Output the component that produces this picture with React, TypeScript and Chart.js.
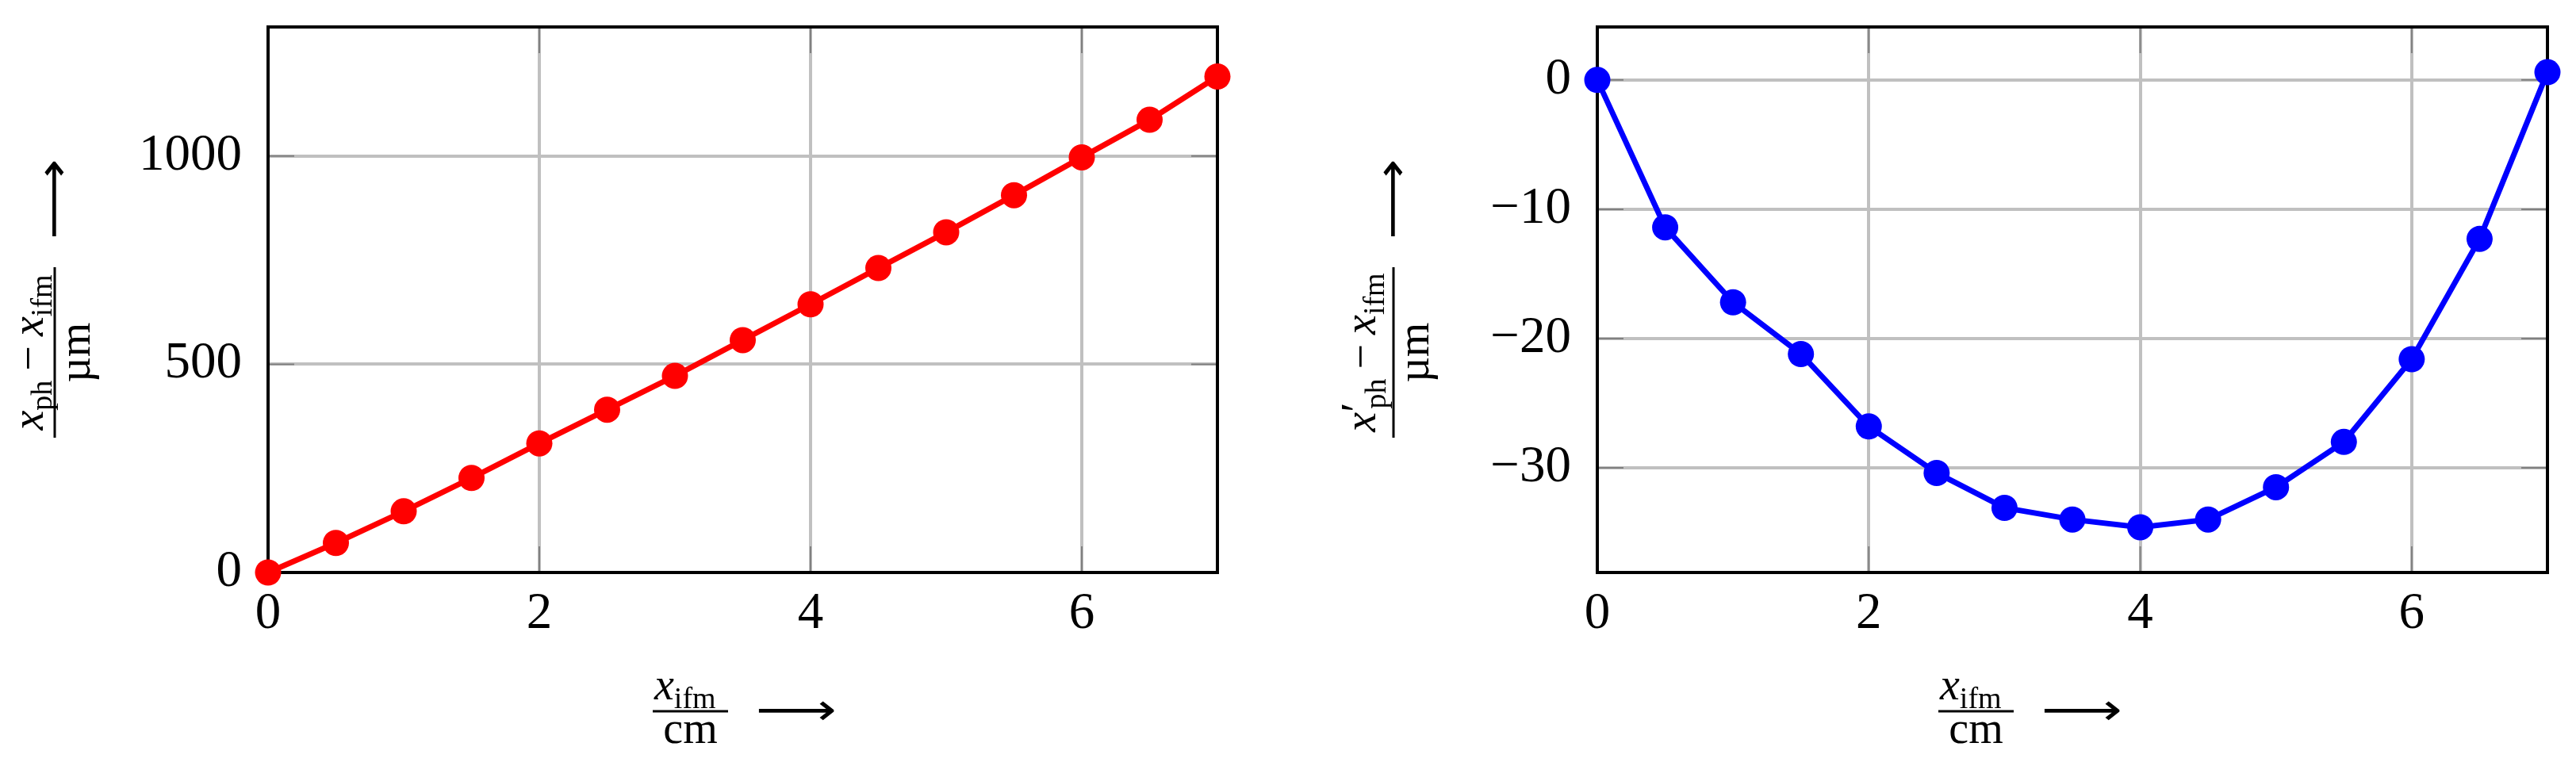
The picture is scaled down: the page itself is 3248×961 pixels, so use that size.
import React, { useEffect, useRef } from "react";
import { Chart, registerables } from "chart.js";

Chart.register(...registerables);

// ---------- data ----------
const xPositions = [0, 0.5, 1, 1.5, 2, 2.5, 3, 3.5, 4, 4.5, 5, 5.5, 6, 6.5, 7];
const deviationValues = [0, 71, 147, 227, 310, 391, 472, 558, 644, 731, 817, 906, 997, 1087, 1191];
const correctedValues = [0, -11.4, -17.2, -21.2, -26.8, -30.4, -33.1, -34.0, -34.6, -34.0, -31.5, -28.0, -21.6, -12.3, 0.6];
const xTickValues = [0, 2, 4, 6];
const leftYTickValues = [0, 500, 1000];
const rightYTickValues = [-30, -20, -10, 0];
const xRange = [0, 7];
const leftYRange = [0, 1310];
const rightYRange = [-38.1, 4.1];

const TICK_FONT = "'Liberation Serif', 'Times New Roman', serif";

const framePlugin = {
  id: "frame",
  beforeDatasetsDraw(chart: any) {
    const { ctx, chartArea: a, scales } = chart;
    const L = 33;
    ctx.save();
    ctx.strokeStyle = "#808080";
    ctx.lineWidth = 2;
    const seg = (x1: number, y1: number, x2: number, y2: number) => {
      ctx.beginPath();
      ctx.moveTo(x1, y1);
      ctx.lineTo(x2, y2);
      ctx.stroke();
    };
    for (const t of scales.x.ticks) {
      const p = scales.x.getPixelForValue(t.value);
      seg(p, a.bottom, p, a.bottom - L);
      seg(p, a.top, p, a.top + L);
    }
    for (const t of scales.y.ticks) {
      const p = scales.y.getPixelForValue(t.value);
      seg(a.left, p, a.left + L, p);
      seg(a.right, p, a.right - L, p);
    }
    ctx.strokeStyle = "#000000";
    ctx.lineWidth = 4;
    ctx.strokeRect(a.left, a.top, a.right - a.left, a.bottom - a.top);
    ctx.restore();
  },
};

const fmt = (v: any) => String(v).replace("-", "\u2212");

function makeConfig(
  values: number[],
  color: string,
  yRange: number[],
  yTicks: number[],
  yAxisWidth: number,
  padRight: number
): any {
  return {
    type: "line",
    data: {
      datasets: [
        {
          data: xPositions.map((x, i) => ({ x, y: values[i] })),
          borderColor: color,
          backgroundColor: color,
          borderWidth: 7,
          pointRadius: 16.5,
          pointBorderWidth: 0,
          pointBackgroundColor: color,
          tension: 0,
          clip: false,
        },
      ],
    },
    options: {
      responsive: false,
      animation: false,
      events: [],
      layout: { padding: { top: 34, right: padRight, left: 0, bottom: 0 } },
      plugins: { legend: { display: false }, tooltip: { enabled: false } },
      scales: {
        x: {
          type: "linear",
          min: xRange[0],
          max: xRange[1],
          afterBuildTicks: (s: any) => {
            s.ticks = xTickValues.map((value) => ({ value }));
          },
          afterFit: (s: any) => {
            s.height = 239;
            s.paddingLeft = 0;
            s.paddingRight = 0;
            s.paddingTop = 0;
            s.paddingBottom = 0;
          },
          border: { display: false },
          grid: { color: "#c0c0c0", lineWidth: 4, drawTicks: false },
          ticks: {
            autoSkip: false,
            maxRotation: 0,
            minRotation: 0,
            padding: 14,
            color: "#000",
            font: { family: TICK_FONT, size: 65 },
            callback: fmt,
          },
        },
        y: {
          type: "linear",
          min: yRange[0],
          max: yRange[1],
          afterBuildTicks: (s: any) => {
            s.ticks = yTicks.map((value) => ({ value }));
          },
          afterFit: (s: any) => {
            s.width = yAxisWidth;
            s.paddingLeft = 0;
            s.paddingRight = 0;
            s.paddingTop = 0;
            s.paddingBottom = 0;
          },
          border: { display: false },
          grid: { color: "#c0c0c0", lineWidth: 4, drawTicks: false },
          ticks: {
            autoSkip: false,
            padding: 33,
            color: "#000",
            font: { family: TICK_FONT, size: 65 },
            callback: fmt,
          },
        },
      },
    },
    plugins: [framePlugin],
  };
}

function ChartCanvas(props: { config: any; left: number; width: number }) {
  const ref = useRef<HTMLCanvasElement | null>(null);
  useEffect(() => {
    if (!ref.current) return;
    const chart = new Chart(ref.current, props.config);
    return () => chart.destroy();
  }, []);
  return (
    <canvas
      ref={ref}
      width={props.width}
      height={961}
      style={{ position: "absolute", left: props.left, top: 0, width: props.width, height: 961, display: "block" }}
    />
  );
}

const MAIN = 56;
const SUB = 38;

function XLabel({ fl }: { fl: number }) {
  return (
    <g fontFamily={TICK_FONT} fill="#000">
      <text x={fl + 2} y={882} fontSize={MAIN}>
        <tspan fontStyle="italic">x</tspan>
        <tspan fontSize={SUB} dy={11}>ifm</tspan>
      </text>
      <line x1={fl} x2={fl + 95} y1={897} y2={897} stroke="#000" strokeWidth={3} />
      <text x={fl + 47.5} y={937} fontSize={MAIN} textAnchor="middle">cm</text>
      <text x={fl + 130} y={914} fontFamily="'DejaVu Sans'" fontSize={MAIN} textLength={102} lengthAdjust="spacingAndGlyphs">
        {"\u27F6"}
      </text>
    </g>
  );
}

function YLabel({ lx, prime, numBase }: { lx: number; prime: boolean; numBase: number }) {
  return (
    <g transform={`translate(${lx},552) rotate(-90)`} fontFamily={TICK_FONT} fill="#000">
      <text x={107.5} y={numBase} fontSize={MAIN} textAnchor="middle">
        <tspan fontStyle="italic">x</tspan>
        {prime ? <tspan dy={-4}>{"\u2032"}</tspan> : null}
        <tspan fontSize={SUB} dx={prime ? -8 : 0} dy={prime ? 17 : 11}>ph</tspan>
        <tspan dx={12} dy={prime ? -13 : -11}>{"\u2212"}</tspan>
        <tspan dx={12} fontStyle="italic">x</tspan>
        <tspan fontSize={SUB} dy={11}>ifm</tspan>
      </text>
      <line x1={0} x2={215} y1={0} y2={0} stroke="#000" strokeWidth={3} />
      <text x={107.5} y={44} fontSize={MAIN} textAnchor="middle">{"\u00B5m"}</text>
      <text x={250} y={17} fontFamily="'DejaVu Sans'" fontSize={MAIN} textLength={102} lengthAdjust="spacingAndGlyphs">
        {"\u27F6"}
      </text>
    </g>
  );
}

export default function App() {
  const leftConfig = makeConfig(deviationValues, "#ff0000", leftYRange, leftYTickValues, 338, 89);
  const rightConfig = makeConfig(correctedValues, "#0000ff", rightYRange, rightYTickValues, 390, 36);
  return (
    <div style={{ position: "absolute", left: 0, top: 0, width: 3248, height: 961, background: "#fff", overflow: "hidden" }}>
      <ChartCanvas config={leftConfig} left={0} width={1624} />
      <ChartCanvas config={rightConfig} left={1624} width={1624} />
      <svg width={3248} height={961} style={{ position: "absolute", left: 0, top: 0, pointerEvents: "none" }}>
        <XLabel fl={823} />
        <XLabel fl={2444} />
        <YLabel lx={69} prime={false} numBase={-15} />
        <YLabel lx={1757} prime={true} numBase={-23} />
      </svg>
    </div>
  );
}
